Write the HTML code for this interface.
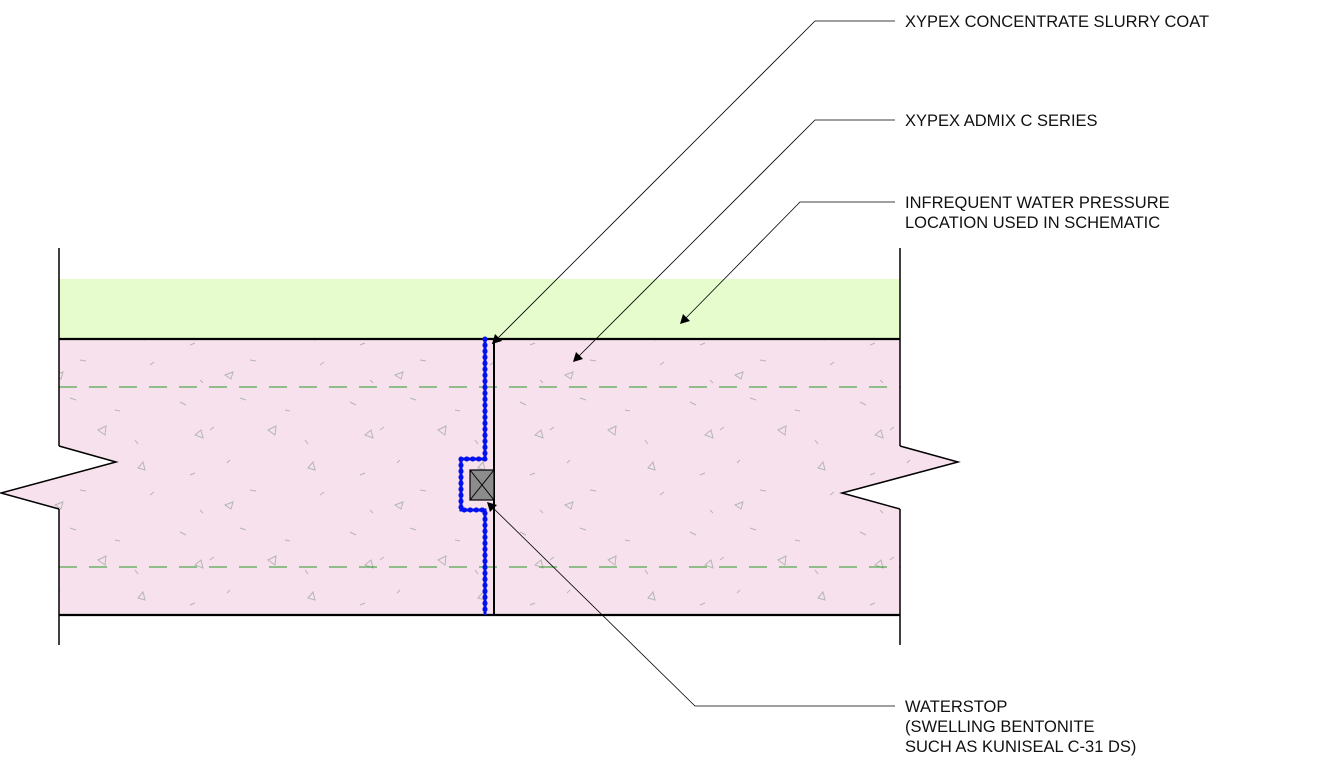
<!DOCTYPE html>
<html><head><meta charset="utf-8"><style>
html,body{margin:0;padding:0;background:#fff;}
svg{display:block;}
text{font-family:"Liberation Sans",sans-serif;font-size:16.5px;fill:#111;}
</style></head><body>
<svg width="1331" height="768" viewBox="0 0 1331 768" xmlns="http://www.w3.org/2000/svg">
<defs>
<pattern id="agg" width="170" height="130" patternUnits="userSpaceOnUse">
<g stroke="#b5b5b5" stroke-width="1" fill="none">
<path d="M10 12 l6 3 M40 40 l4 -3 M70 8 l6 2 M135 50 l3 4 M20 85 l5 -2 M80 100 l6 1 M150 105 l4 -3 M30 120 l3 3 M115 20 l5 1 M60 70 l-3 3"/>
<path d="M98 40 l8 -4 l-1 9z M25 45 l6 -5 l2 8z M145 80 l-7 -2 l5 -6z M55 115 l8 -3 l-2 7z"/>
</g>
</pattern>
</defs>
<rect x="59" y="279" width="841" height="60" fill="#e6fccc"/>
<path d="M59 339 H900 V446 L958 462 L842 493 L900 509 V615 H59 V509 L1 493 L116 462 L59 446 Z" fill="#f6e1ec"/>
<path d="M59 339 H900 V446 L958 462 L842 493 L900 509 V615 H59 V509 L1 493 L116 462 L59 446 Z" fill="url(#agg)"/>
<g stroke="#2a9a2a" stroke-width="1" stroke-dasharray="18,12">
<line x1="59" y1="387" x2="900" y2="387"/>
<line x1="59" y1="567" x2="900" y2="567"/>
</g>
<g stroke="#000" fill="none">
<line x1="59" y1="248" x2="59" y2="446" stroke-width="1.5"/>
<line x1="900" y1="248" x2="900" y2="446" stroke-width="1.5"/>
<line x1="59" y1="509" x2="59" y2="645" stroke-width="1.5"/>
<line x1="900" y1="509" x2="900" y2="645" stroke-width="1.5"/>
<path d="M59 446 L116 462 L1 493 L59 509 M900 446 L958 462 L842 493 L900 509" stroke-width="1.5"/>
<line x1="59" y1="339" x2="900" y2="339" stroke-width="2.2"/>
<line x1="59" y1="615" x2="900" y2="615" stroke-width="2.2"/>
<line x1="494" y1="339" x2="494" y2="615" stroke-width="2"/>
</g>
<path d="M485 339 V459 H461 V510 H485 V615" fill="none" stroke="#0010ee" stroke-width="5" stroke-dasharray="0.5,5.5" stroke-linecap="round"/>
<path d="M485 339 V459 H461 V510 H485 V615" fill="none" stroke="#0010ee" stroke-width="3"/>
<rect x="470" y="470" width="24" height="30" fill="#8c8c8c" stroke="#000" stroke-width="1.2"/>
<path d="M470 470 L494 500 M494 470 L470 500" stroke="#000" stroke-width="1"/>
<g stroke="#000" stroke-width="0.8" fill="none">
<polyline points="895,21 815,21 492,344"/>
<polyline points="895,120 815,120 575,360"/>
<polyline points="895,202 800,202 682,322"/>
<polyline points="895,706 695,706 488,503"/>
</g>
<g fill="#000">
<path d="M492 344 l3 -10 l7 7 z"/>
<path d="M573 362 l3 -10 l7 7 z"/>
<path d="M680 324 l3 -10 l7 7 z"/>
<path d="M487 502 l10 3 l-7 7 z"/>
</g>
<text x="905" y="27">XYPEX CONCENTRATE SLURRY COAT</text>
<text x="905" y="126">XYPEX ADMIX C SERIES</text>
<text x="905" y="208">INFREQUENT WATER PRESSURE</text>
<text x="905" y="228">LOCATION USED IN SCHEMATIC</text>
<text x="905" y="712">WATERSTOP</text>
<text x="905" y="732">(SWELLING BENTONITE</text>
<text x="905" y="752">SUCH AS KUNISEAL C-31 DS)</text>
</svg>
</body></html>
